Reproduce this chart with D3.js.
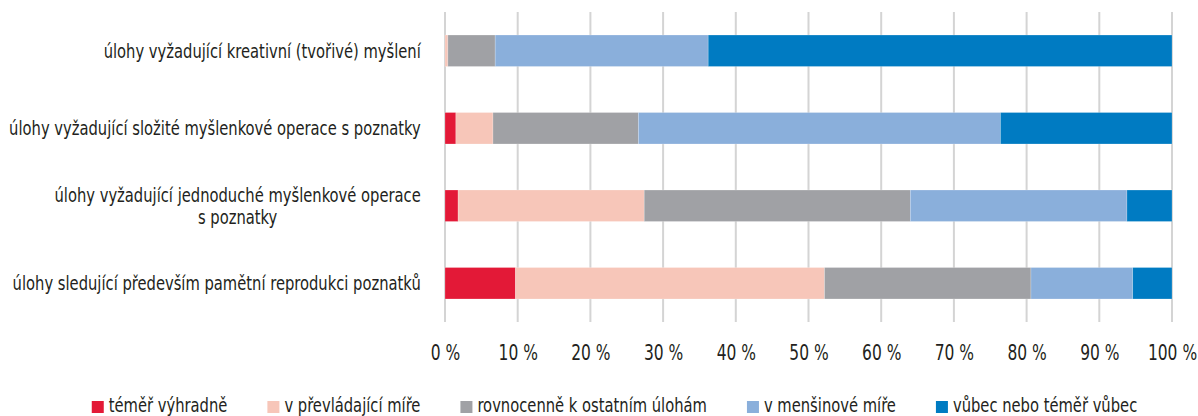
<!DOCTYPE html>
<html>
<head>
<meta charset="utf-8">
<script src="https://cdn.jsdelivr.net/npm/d3@7"></script>
<style>
  body { margin: 0; background: #fff; }
  text { font-family: "DejaVu Sans Condensed", "DejaVu Sans", sans-serif; fill: #231f20; }
</style>
</head>
<body>
<script>
// categories top to bottom, "\n" marks a line break in the label
const categories = [
	'úlohy vyžadující kreativní (tvořivé) myšlení',
	'úlohy vyžadující složité myšlenkové operace s poznatky',
	'úlohy vyžadující jednoduché myšlenkové operace\ns poznatky',
	'úlohy sledující především pamětní reprodukci poznatků'
];
const seriesNames = ['téměř výhradně', 'v převládající míře', 'rovnocenně k ostatním úlohám', 'v menšinové míře', 'vůbec nebo téměř vůbec'];
const seriesColors = ['#e31937', '#f7c6b9', '#a0a1a5', '#8aafdb', '#007bc2'];
// percent per category for each series
const temerVyhradne = [0, 1.5, 1.8, 9.7];
const prevladajici = [0.4, 5.1, 25.6, 42.5];
const rovnocenne = [6.5, 20.0, 36.6, 28.4];
const mensinove = [29.3, 49.8, 29.8, 14.0];
const vubec = [63.8, 23.6, 6.2, 5.4];
const ticks = [0, 10, 20, 30, 40, 50, 60, 70, 80, 90, 100];

const width = 1198, height = 416;
const plot = { left: 445, right: 1172, top: 12, bottom: 322 };
const squeeze = 0.82; // the original face is a condensed one

const allSeries = [temerVyhradne, prevladajici, rovnocenne, mensinove, vubec];
const rows = categories.map(function(c, i) {
	const r = { cat: c };
	seriesNames.forEach(function(s, k) { r[s] = allSeries[k][i]; });
	return r;
});

const svg = d3.select('body').append('svg')
	.attr('width', width)
	.attr('height', height);

const x = d3.scaleLinear().domain([0, 100]).range([plot.left, plot.right]);
const y = d3.scaleBand().domain(categories).range([plot.top, plot.bottom])
	.paddingInner(0.594).paddingOuter(0.297);

// grid
svg.append('g').selectAll('line').data(ticks).enter().append('line')
	.attr('x1', d => x(d)).attr('x2', d => x(d))
	.attr('y1', plot.top).attr('y2', plot.bottom)
	.attr('stroke', '#d4d4d4').attr('stroke-width', 2);

// bars
const stacked = d3.stack().keys(seriesNames)(rows);
svg.append('g').selectAll('g').data(stacked).enter().append('g')
	.attr('fill', (d, i) => seriesColors[i])
	.selectAll('rect').data(d => d).enter().append('rect')
	.attr('x', d => x(d[0]))
	.attr('width', d => x(d[1]) - x(d[0]))
	.attr('y', d => y(d.data.cat))
	.attr('height', y.bandwidth())
	.attr('stroke', '#fff').attr('stroke-opacity', 0.35).attr('stroke-width', 0.6);

// x axis labels
const xAxis = d3.axisBottom(x).tickValues(ticks).tickSize(0).tickPadding(0)
	.tickFormat(d => d + ' %');
svg.append('g')
	.attr('transform', 'translate(0,' + 345 + ')')
	.call(xAxis)
	.call(g => g.select('.domain').remove())
	.selectAll('text')
	.attr('font-size', 21)
	.attr('fill', '#231f20')
	.attr('font-family', null)
	.attr('transform', 'scale(' + squeeze + ',1)');

// category labels, right aligned block, lines centred within it
const labelRight = 421;
const lab = svg.append('g');
categories.forEach(function(c) {
	const lines = c.split('\n');
	const t = lab.append('text').attr('font-size', 20).attr('text-anchor', 'middle');
	const spans = lines.map(function(l) { return t.append('tspan').text(l); });
	let maxW = 0;
	spans.forEach(function(s) { maxW = Math.max(maxW, s.node().getComputedTextLength() * squeeze); });
	const cx = labelRight - maxW / 2;
	const lh = 22;
	const yc = y(c) + y.bandwidth() / 2;
	t.attr('transform', 'translate(' + cx + ',' + (yc + 7) + ') scale(' + squeeze + ',1)');
	spans.forEach(function(s, i) {
		s.attr('x', 0).attr('y', (i - (lines.length - 1) / 2) * lh);
	});
});

// legend
const gap = 40;
const leg = svg.append('g');
let lx = 0;
seriesNames.forEach(function(s, i) {
	const g = leg.append('g').attr('transform', 'translate(' + lx + ',0)');
	g.append('rect').attr('x', 0).attr('y', -11).attr('width', 12).attr('height', 12).attr('fill', seriesColors[i]);
	const t = g.append('text').attr('font-size', 20)
		.attr('transform', 'translate(17,0) scale(' + squeeze + ',1)').text(s);
	lx += 17 + t.node().getComputedTextLength() * squeeze + gap;
});
const legW = lx - gap;
leg.attr('transform', 'translate(' + (614.5 - legW / 2) + ',' + 412 + ')');
</script>
</body>
</html>
